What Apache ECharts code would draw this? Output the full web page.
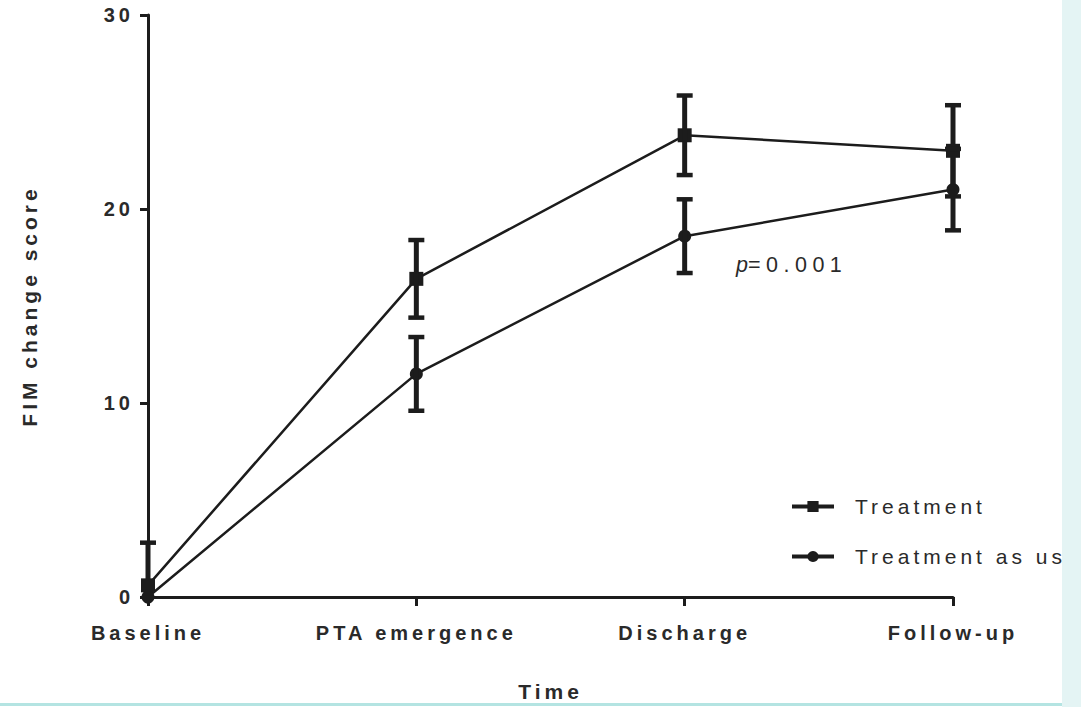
<!DOCTYPE html>
<html><head><meta charset="utf-8">
<script src="https://cdn.jsdelivr.net/npm/echarts@6/dist/echarts.min.js"></script>
<style>
html,body{margin:0;padding:0;background:#fff;overflow:hidden;width:1081px;height:707px;}
#chart{width:1081px;height:707px;overflow:hidden;position:relative;}
#chart svg{overflow:hidden;}
#chart text{letter-spacing:4px;}
#chart [style*="21.5px"]{letter-spacing:5.5px;}
</style></head>
<body><div id="chart"></div>
<script>
const categories = ['Baseline', 'PTA emergence', 'Discharge', 'Follow-up'];
const treatmentMean = [0.6, 16.4, 23.8, 23.0];
const treatmentErr  = [2.2, 2.0, 2.05, 2.35];
const usualMean = [0, 11.5, 18.6, 21.0];
const usualErr  = [0, 1.9, 1.9, 2.1];
const yTicks = [0, 10, 20, 30];
const pLabel = '0.001';

const ink = '#1c1c1c';
const chart = echarts.init(document.getElementById('chart'), null, {renderer: 'svg'});

function errData(means, errs) {
  return means.map((m, i) => [i, m, errs[i]]);
}
function renderErr(params, api) {
  const x = api.value(0), m = api.value(1), e = api.value(2);
  if (!e) return null;
  const hiV = m + e, loV = Math.max(0, m - e);
  const hi = api.coord([x, hiV]);
  const lo = api.coord([x, loV]);
  const cw = 8;
  const children = [{
    type: 'line', shape: {x1: hi[0], y1: hi[1], x2: lo[0], y2: lo[1]},
    style: {stroke: ink, lineWidth: 5}
  }, {
    type: 'line', shape: {x1: hi[0] - cw, y1: hi[1], x2: hi[0] + cw, y2: hi[1]},
    style: {stroke: ink, lineWidth: 4.5}
  }];
  if (m - e >= 0) {
    children.push({
      type: 'line', shape: {x1: lo[0] - cw, y1: lo[1], x2: lo[0] + cw, y2: lo[1]},
      style: {stroke: ink, lineWidth: 4.5}
    });
  }
  return {type: 'group', children};
}

const labelFont = {fontFamily: 'Liberation Sans', fontWeight: 'bold', fontSize: 20, color: '#2a2a2a'};

chart.setOption({
  animation: false,
  grid: {left: 148, right: 1081 - 953, top: 15, bottom: 104, containLabel: false},
  legend: {
    orient: 'vertical', left: 790, top: 496, itemGap: 29, padding: 0,
    itemWidth: 42, itemHeight: 14,
    lineStyle: {width: 4},
    textStyle: {fontFamily: 'Liberation Sans', fontSize: 21, color: '#2a2a2a', padding: [0, 0, 0, 16]},
    data: ['Treatment', 'Treatment as usual']
  },
  xAxis: {
    type: 'category', data: categories, boundaryGap: false,
    axisLine: {lineStyle: {color: ink, width: 3}},
    axisTick: {show: true, length: 9, lineStyle: {color: ink, width: 3}},
    axisLabel: Object.assign({margin: 26, interval: 0}, labelFont),
    name: 'Time', nameLocation: 'middle', nameGap: 84,
    nameTextStyle: Object.assign({}, labelFont, {fontSize: 21})
  },
  yAxis: {
    type: 'value', min: yTicks[0], max: yTicks[yTicks.length - 1], interval: 10,
    splitLine: {show: false},
    axisLine: {show: true, lineStyle: {color: ink, width: 3}},
    axisTick: {show: true, length: 8, lineStyle: {color: ink, width: 3}},
    axisLabel: Object.assign({margin: 14}, labelFont),
    name: 'FIM change score', nameLocation: 'middle', nameGap: 108, nameRotate: 90,
    nameTextStyle: Object.assign({}, labelFont, {fontSize: 21})
  },
  series: [{
    name: 'Treatment', type: 'line', data: treatmentMean,
    symbol: 'rect', symbolSize: 14, showSymbol: true,
    lineStyle: {color: ink, width: 2.5}, itemStyle: {color: ink}, z: 3
  }, {
    name: 'Treatment as usual', type: 'line', data: usualMean,
    symbol: 'circle', symbolSize: 13, showSymbol: true,
    lineStyle: {color: ink, width: 2.5}, itemStyle: {color: ink}, z: 3
  }, {
    type: 'custom', renderItem: renderErr, data: errData(treatmentMean, treatmentErr), z: 4, clip: false
  }, {
    type: 'custom', renderItem: renderErr, data: errData(usualMean, usualErr), z: 4, clip: false
  }],
  graphic: [{
    type: 'text', left: 736, top: 254, z: 10,
    style: {
      text: '{i|p}{n|=' + pLabel + '}',
      rich: {
        i: {fontFamily: 'Liberation Sans', fontStyle: 'italic', fontSize: 21.5, fill: '#2a2a2a'},
        n: {fontFamily: 'Liberation Sans', fontSize: 21.5, fill: '#2a2a2a'}
      }
    }
  }, {
    type: 'rect', z: 100, shape: {x: 1062, y: 0, width: 19, height: 707},
    style: {fill: '#e4f4f4'}
  }, {
    type: 'rect', z: 100, shape: {x: 0, y: 703, width: 1062, height: 3},
    style: {fill: '#b4e4e2'}
  }]
});
</script></body></html>
